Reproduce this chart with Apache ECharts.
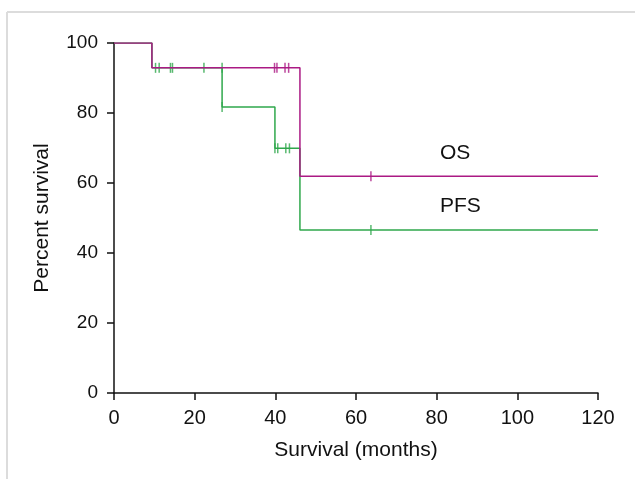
<!DOCTYPE html>
<html lang="en">
<head>
<meta charset="UTF-8">
<title>Survival</title>
<script src="https://cdn.jsdelivr.net/npm/echarts@6/dist/echarts.min.js"></script>
<style>
  html, body { margin: 0; padding: 0; background: #fff; }
  #main { width: 635px; height: 479px; }
</style>
</head>
<body>
<div id="main"></div>
<script>
// step points of the Kaplan-Meier curves (months, percent)
var osTimes = [0, 9.4, 46.1, 120];
var osSurv = [100, 92.9, 61.9, 61.9];
var osCensorTimes = [39.8, 40.4, 42.4, 43.3, 63.7];
var osCensorSurv = [92.9, 92.9, 92.9, 92.9, 61.9];

var pfsTimes = [0, 9.4, 26.8, 39.9, 46.1, 120];
var pfsSurv = [100, 92.9, 81.7, 69.9, 46.6, 46.6];
var pfsCensorTimes = [10.3, 11.2, 14.0, 14.5, 22.3, 26.8, 26.8, 39.9, 40.6, 42.6, 43.5, 63.7];
var pfsCensorSurv = [92.9, 92.9, 92.9, 92.9, 92.9, 92.9, 81.7, 69.9, 69.9, 69.9, 69.9, 46.6];

var xTicks = [0, 20, 40, 60, 80, 100, 120];
var yTicks = [0, 20, 40, 60, 80, 100];

var osColor = '#ab1a84';
var pfsColor = '#2fa84c';
var font = 'Liberation Sans, Arial, sans-serif';

function pairs(xs, ys) {
  var out = [];
  for (var i = 0; i < xs.length; i++) out.push([xs[i], ys[i]]);
  return out;
}

var myChart = echarts.init(document.getElementById('main'));
myChart.setOption({
  animation: false,
  backgroundColor: '#fff',
  grid: { left: 114, right: 37, top: 43, bottom: 86 },
  xAxis: {
    type: 'value',
    min: xTicks[0], max: xTicks[xTicks.length - 1], interval: 20,
    name: 'Survival (months)', nameLocation: 'middle', nameGap: 47,
    nameTextStyle: { fontFamily: font, fontSize: 21, color: '#111' },
    axisLine: { lineStyle: { color: '#111', width: 1.5 } },
    axisTick: { length: 7, lineStyle: { color: '#111', width: 1.5 } },
    axisLabel: { fontFamily: font, fontSize: 20, color: '#111', margin: 15 },
    splitLine: { show: false }
  },
  yAxis: {
    type: 'value',
    min: yTicks[0], max: yTicks[yTicks.length - 1], interval: 20,
    name: 'Percent survival', nameLocation: 'middle', nameGap: 61,
    nameTextStyle: { fontFamily: font, fontSize: 21, color: '#111' },
    axisLine: { show: true, lineStyle: { color: '#111', width: 1.5 } },
    axisTick: { show: true, length: 7, lineStyle: { color: '#111', width: 1.5 } },
    axisLabel: { fontFamily: font, fontSize: 19, color: '#111', margin: 16 },
    splitLine: { show: false }
  },
  graphic: [
    { type: 'line', shape: { x1: 7, y1: 12, x2: 635, y2: 12 }, style: { stroke: '#dcdcdc', lineWidth: 2 } },
    { type: 'line', shape: { x1: 7, y1: 12, x2: 7, y2: 479 }, style: { stroke: '#dcdcdc', lineWidth: 2 } },
    { type: 'text', left: 440, top: 143, style: { text: 'OS', font: '21px ' + font, fill: '#111' } },
    { type: 'text', left: 440, top: 196, style: { text: 'PFS', font: '21px ' + font, fill: '#111' } }
  ],
  series: [
    {
      type: 'line', step: 'end', data: pairs(pfsTimes, pfsSurv),
      symbol: 'none', lineStyle: { color: pfsColor, width: 1.5 }, z: 2
    },
    {
      type: 'scatter', data: pairs(pfsCensorTimes, pfsCensorSurv),
      symbol: 'rect', symbolSize: [1.5, 10], itemStyle: { color: pfsColor }, z: 2
    },
    {
      type: 'line', step: 'end', data: pairs(osTimes, osSurv),
      symbol: 'none', lineStyle: { color: osColor, width: 1.5 }, z: 3
    },
    {
      type: 'scatter', data: pairs(osCensorTimes, osCensorSurv),
      symbol: 'rect', symbolSize: [1.5, 10], itemStyle: { color: osColor }, z: 3
    }
  ]
});
</script>
</body>
</html>
